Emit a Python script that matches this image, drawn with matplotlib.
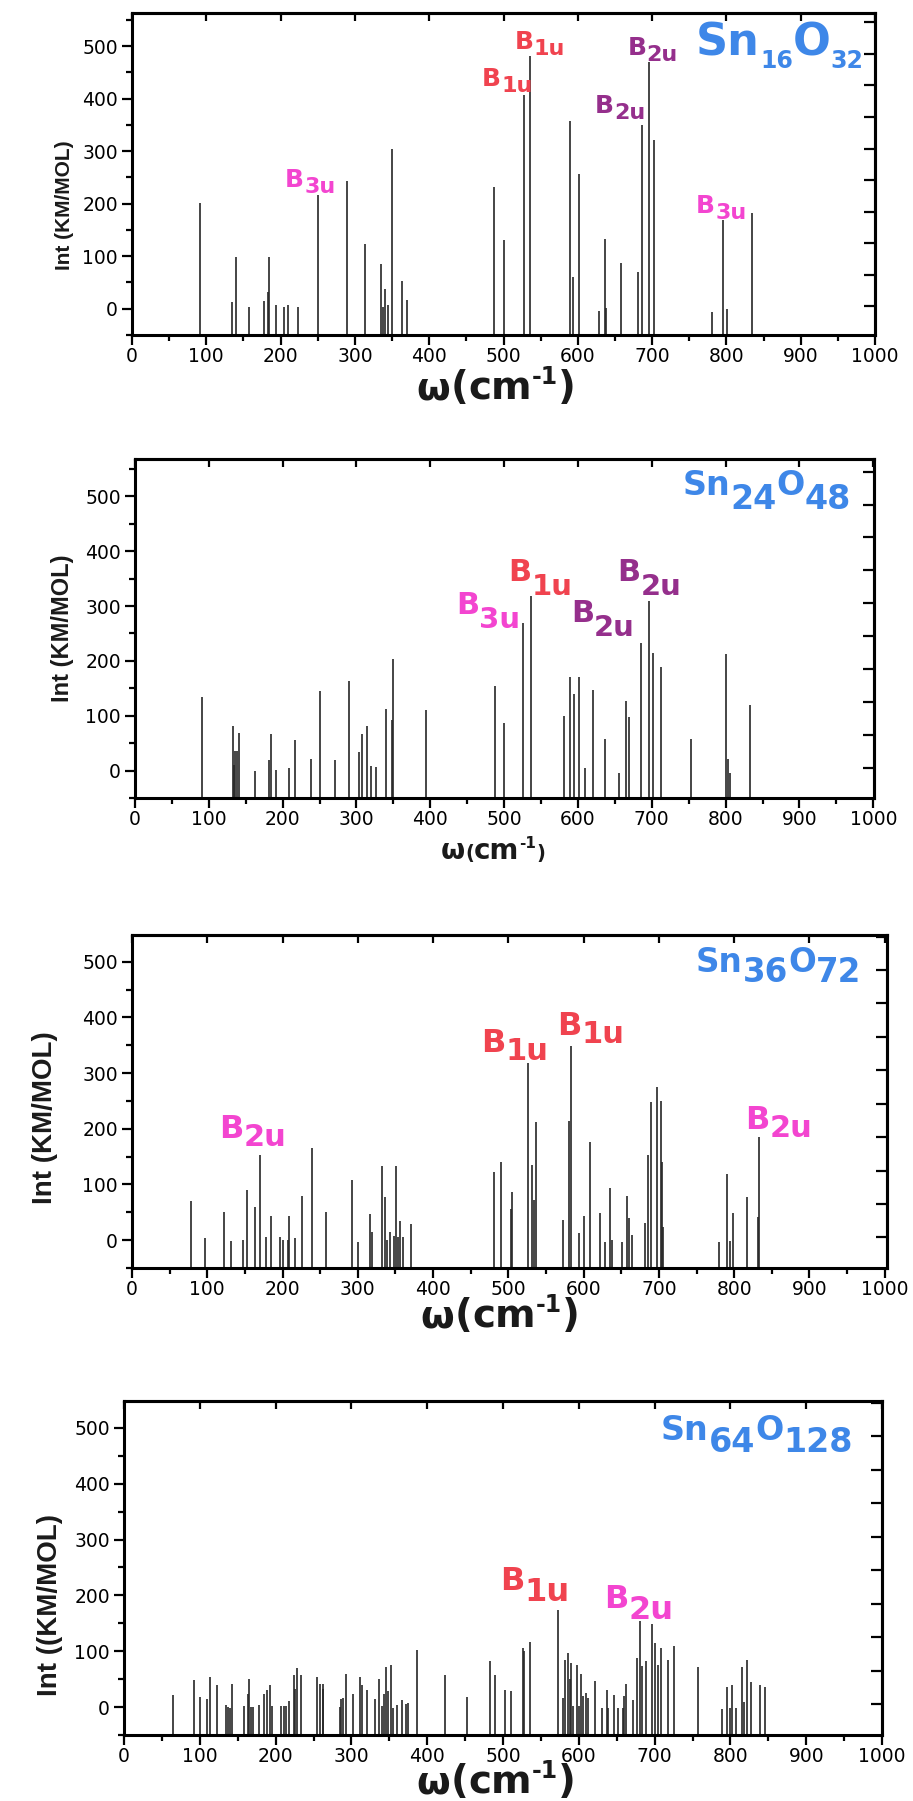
import matplotlib
matplotlib.use("Agg")
import matplotlib.pyplot as plt
from matplotlib.ticker import MultipleLocator, FixedLocator
from matplotlib.transforms import IdentityTransform

W, H = 913, 1801

PINK = "#f345d0"
RED = "#f0434f"
PURPLE = "#952f8c"
BLUE = "#3e87e8"
BAR = "#262626"

# IR spectra: mode frequency (cm-1) and intensity (KM/MOL)
freq_16 = [91, 135, 140, 158, 177, 183, 185, 194, 205, 210, 223, 251, 290, 314, 335, 338,
           341, 345, 350, 364, 370, 487, 500, 527, 536, 590, 593, 602, 629, 636, 638, 658,
           681, 686, 696, 703, 781, 795, 801, 834]
int_16 = [201, 13, 98, 3, 15, 32, 99, 8, 3, 8, 4, 216, 244, 123, 85, 4,
          38, 8, 304, 52, 17, 231, 130, 406, 482, 358, 60, 256, -5, 132, 2, 88,
          69, 349, 469, 322, -6, 169, -1, 183]

freq_24 = [91, 133, 134, 136, 138, 141, 163, 182, 184, 191, 209, 217, 239, 251, 271, 290,
           303, 307, 314, 320, 326, 340, 348, 350, 394, 488, 500, 526, 536, 581, 589, 594,
           602, 610, 620, 637, 656, 665, 669, 686, 696, 701, 713, 753, 800, 803, 806, 833]
int_24 = [134, 82, 11, 36, 36, 69, -1, 20, 67, 1, 5, 55, 22, 145, 20, 164,
          33, 67, 82, 9, 6, 112, 93, 204, 111, 154, 86, 269, 318, 99, 171, 140,
          170, 4, 146, 58, -4, 126, 97, 232, 309, 215, 189, 58, 213, 21, -4, 120]

freq_36 = [78, 97, 122, 132, 147, 153, 163, 170, 178, 185, 196, 200, 207, 209, 216, 226,
           239, 258, 292, 300, 316, 319, 332, 336, 339, 343, 348, 351, 354, 356, 360, 370,
           481, 490, 503, 505, 526, 531, 534, 537, 573, 580, 583, 594, 601, 608, 622, 629,
           635, 638, 651, 658, 660, 664, 681, 685, 689, 698, 703, 704, 706, 780, 790, 794,
           799, 817, 831, 833]
int_36 = [71, 4, 50, -1, 0, 90, 60, 153, 5, 44, 6, 1, 0, 43, 3, 79,
          165, 51, 108, -3, 47, 15, 134, 77, 0, 15, 7, 134, 6, 35, 6, 29,
          123, 140, 56, 86, 319, 135, 72, 213, 37, 214, 349, 12, 44, 176, 49, -3,
          93, 0, -3, 80, 39, 9, 30, 153, 249, 275, 250, 140, 24, -4, 118, -1,
          48, 78, 42, 186]

freq_64 = [64, 93, 100, 109, 114, 123, 135, 137, 140, 142, 158, 163, 165, 167, 170, 178,
           185, 189, 193, 195, 207, 211, 214, 218, 224, 226, 228, 234, 254, 259, 262, 263,
           285, 286, 289, 293, 302, 312, 314, 321, 331, 337, 340, 343, 346, 348, 352, 355,
           360, 367, 372, 375, 387, 424, 453, 483, 490, 503, 510, 526, 528, 536, 573, 579,
           582, 586, 588, 590, 593, 597, 600, 603, 605, 609, 612, 621, 630, 637, 639, 646,
           652, 658, 660, 662, 671, 677, 681, 684, 689, 697, 700, 704, 709, 718, 726, 757,
           789, 796, 800, 802, 807, 815, 818, 822, 827, 839, 845]
int_64 = [21, 49, 18, 15, 54, 40, 3, 0, -1, 42, 2, 24, 51, 0, 0, 3,
          24, 31, 39, 2, 2, 2, 2, 10, 58, 33, 70, 58, 54, 42, 42, 33,
          0, 15, 17, 60, 23, 54, 40, 31, 15, 51, 2, 23, 71, 29, 76, -1,
          3, 12, 5, 8, 103, 57, 18, 82, 57, 30, 29, 106, 100, 117, 173, 17,
          84, 97, 51, 79, 2, 76, 2, 60, 20, 26, 17, 46, -1, 31, -1, 21,
          -1, -1, 20, 42, 12, 88, 154, 73, 82, 149, 114, 76, 105, 85, 109, 72,
          -3, 36, -1, 39, -1, 72, 9, 85, 45, 40, 36]

# mode symmetry labels: (subscript, centre x in cm-1, baseline intensity, colour)
modes_16 = [("3u", 240, 232, PINK), ("1u", 505, 424, RED), ("1u", 549, 494, RED),
            ("2u", 657, 372, PURPLE), ("2u", 701, 483, PURPLE), ("3u", 793, 183, PINK)]
modes_24 = [("3u", 478, 286, PINK), ("1u", 549, 345, RED),
            ("2u", 634, 271, PURPLE), ("2u", 697, 346, PURPLE)]
modes_36 = [("2u", 160, 183, PINK), ("1u", 508, 338, RED),
            ("1u", 610, 368, RED), ("2u", 859, 200, PINK)]
modes_64 = [("1u", 542, 210, RED), ("2u", 679, 178, PINK)]

# cluster formulas: (Sn count, O count, centre x, baseline intensity)
clusters = [("16", "32", 872, 483), ("24", "48", 856, 503),
            ("36", "72", 859, 482), ("64", "128", 835, 478)]

fig = plt.figure(figsize=(W / 100, H / 100), dpi=100)
renderer = fig.canvas.get_renderer()


def put(x, y, parts, color, family="DejaVu Sans", align=0.0):
    """Write text pieces one after another; x, y = baseline in pixels from top-left."""
    texts = []
    cx = x
    for s, size, dy in parts:
        t = fig.text(cx, H - (y + dy), s, transform=IdentityTransform(),
                     fontsize=size, fontweight="bold", color=color,
                     family=family, ha="left", va="baseline")
        cx = t.get_window_extent(renderer).x1
        texts.append(t)
    shift = (cx - x) * align
    for t in texts:
        px, py = t.get_position()
        t.set_position((px - shift, py))


def to_px(ax, x, y):
    dx, dy = ax.transData.transform((x, y))
    return dx, H - dy


def panel(box, xmax, ymax, freq, inten):
    l, t, r, b = box
    ax = fig.add_axes([l / W, 1 - b / H, (r - l) / W, (b - t) / H])
    ax.vlines(freq, -50, inten, color=BAR, lw=1.2)
    ax.set_xlim(0, xmax)
    ax.set_ylim(-50, ymax)
    ax.xaxis.set_major_locator(MultipleLocator(100))
    ax.xaxis.set_minor_locator(MultipleLocator(50))
    ax.yaxis.set_major_locator(FixedLocator([0, 100, 200, 300, 400, 500]))
    ax.yaxis.set_minor_locator(MultipleLocator(50))
    ax.tick_params(which="both", direction="out", width=1.6, top=False, right=False,
                   labelsize=13.5)
    ax.tick_params(axis="x", pad=1.5)
    ax.tick_params(axis="y", pad=3)
    ax.tick_params(which="major", length=7)
    ax.tick_params(which="minor", length=4)
    for lab in ax.get_xticklabels() + ax.get_yticklabels():
        lab.set_family("DejaVu Sans")
    for sp in ax.spines.values():
        sp.set_linewidth(2.2)

    top = ax.secondary_xaxis("top")
    top.xaxis.set_major_locator(MultipleLocator(100))
    top.tick_params(direction="in", length=6, width=1.6, labeltop=False)
    top.spines["top"].set_linewidth(2.2)

    right = ax.secondary_yaxis("right")
    right.yaxis.set_major_locator(FixedLocator([5 + 60 * k for k in range(10)]))
    right.tick_params(direction="in", length=8, width=1.6, labelright=False)
    right.spines["right"].set_linewidth(2.2)
    return ax


def draw_modes(ax, modes, big, small, drop):
    for sub, x, y, color in modes:
        px, py = to_px(ax, x, y)
        put(px, py, [("B", big, 0), (sub, small, drop)], color, align=0.5)


def draw_cluster(ax, cl, big, small, drop):
    n_sn, n_o, x, y = cl
    px, py = to_px(ax, x, y)
    put(px, py, [("Sn", big, 0), (n_sn, small, drop), ("O", big, 0), (n_o, small, drop)],
        BLUE, align=0.5)


def omega_label(cx, base, big, paren, sup):
    put(cx, base, [("ω", big, 0), ("(", paren, 0), ("cm", big, 0),
                   ("-1", sup, -0.38 * big * 100 / 72), (")", paren, 0)],
        "#1a1a1a", align=0.5)


boxes = [(132, 13, 875, 335), (135, 459, 874, 798),
         (132, 935, 887, 1268), (124, 1401, 882, 1735)]

ax1 = panel(boxes[0], 1000, 563, freq_16, int_16)
ax2 = panel(boxes[1], 1001, 568, freq_24, int_24)
ax3 = panel(boxes[2], 1003, 548, freq_36, int_36)
ax4 = panel(boxes[3], 1000, 548, freq_64, int_64)

draw_modes(ax1, modes_16, 18, 16, 6)
draw_modes(ax2, modes_24, 22, 21, 14)
draw_modes(ax3, modes_36, 23, 22, 8)
draw_modes(ax4, modes_64, 23, 23, 11)

draw_cluster(ax1, clusters[0], 32, 17, 13)
draw_cluster(ax2, clusters[1], 24, 24, 14)
draw_cluster(ax3, clusters[2], 23.5, 23.5, 10)
draw_cluster(ax4, clusters[3], 24, 24, 12)

omega_label(496, 399, 28, 28, 17)
omega_label(493, 859, 20, 14, 11)
omega_label(500, 1327, 28, 28, 17)
omega_label(496, 1793, 28, 28, 17)

ylab = dict(rotation=90, ha="center", va="center", fontweight="bold",
            family="Liberation Sans", color="#1a1a1a")
fig.text(64 / W, 1 - 205 / H, "Int (KM/MOL)", fontsize=15, **ylab)
fig.text(62 / W, 1 - 628 / H, "Int (KM/MOL)", fontsize=17, **ylab)
fig.text(45 / W, 1 - 1118 / H, "Int (KM/MOL)", fontsize=20, **ylab)
fig.text(50 / W, 1 - 1605 / H, "Int ((KM/MOL)", fontsize=20, **ylab)

fig.savefig("out.png", dpi=100)
